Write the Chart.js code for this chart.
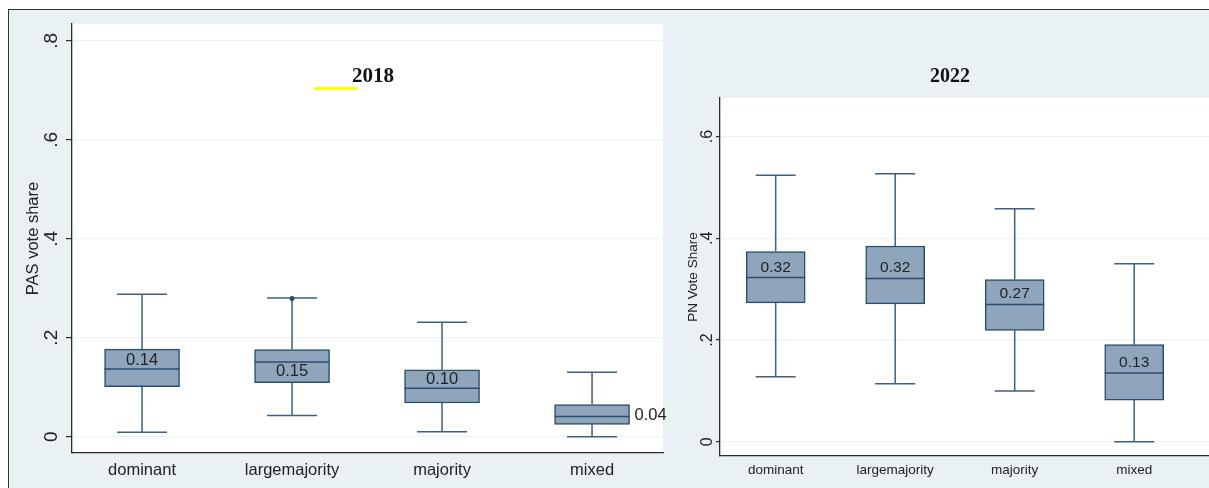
<!DOCTYPE html>
<html>
<head>
<meta charset="utf-8">
<script src="https://cdn.jsdelivr.net/npm/chart.js@4.4.1/dist/chart.umd.min.js"></script>
<style>
  html, body { margin: 0; padding: 0; background: #fff; }
  body { width: 1209px; height: 488px; position: relative; overflow: hidden; }
  #frame { position: absolute; left: 8px; top: 9px; right: -4px; bottom: -4px;
           background: #eaf1f4; border-top: 1.5px solid #333; border-left: 1.5px solid #333; }
  canvas { position: absolute; }
  #c18 { left: 9px; top: 10px; }
  #c22 { left: 670px; top: 10px; }
  .ttl { position: absolute; font-family: "Liberation Serif", "Times New Roman", serif;
         font-weight: bold; color: #111; transform: translate(-50%, -50%); white-space: nowrap; }
  #mark { position: absolute; left: 314px; top: 87px; width: 43px; height: 2.5px; background: #ffff00; }
</style>
</head>
<body>
<div id="frame"></div>
<canvas id="c18" width="661" height="478"></canvas>
<canvas id="c22" width="539" height="478"></canvas>
<div class="ttl" style="left:373px; top:75px; font-size:21px;">2018</div>
<div class="ttl" style="left:950px; top:75px; font-size:20px;">2022</div>
<div id="mark"></div>
<script>
// categorias comuns aos dois painéis
const categories = ['dominant', 'largemajority', 'majority', 'mixed'];

// 2018 - PAS vote share
const lo18  = [0.009, 0.043, 0.010, 0.000];
const q1_18 = [0.101, 0.109, 0.068, 0.025];
const med18 = [0.137, 0.151, 0.098, 0.041];
const q3_18 = [0.177, 0.176, 0.135, 0.065];
const hi18  = [0.288, 0.280, 0.231, 0.130];
const out18 = [[], [0.279], [], []];
const labels18 = ['0.14', '0.15', '0.10', '0.04'];
const labelY18 = [0.154, 0.131, 0.116, 0.042];
const labelAt18 = ['in', 'in', 'in', 'right'];
const yTicks18 = [0, 0.2, 0.4, 0.6, 0.8];

// 2022 - PN vote share
const lo22  = [0.128, 0.114, 0.100, 0.000];
const q1_22 = [0.273, 0.271, 0.219, 0.082];
const med22 = [0.323, 0.321, 0.270, 0.135];
const q3_22 = [0.374, 0.385, 0.319, 0.191];
const hi22  = [0.524, 0.527, 0.458, 0.350];
const out22 = [[], [], [], []];
const labels22 = ['0.32', '0.32', '0.27', '0.13'];
const labelY22 = [0.342, 0.342, 0.292, 0.155];
const labelAt22 = ['in', 'in', 'in', 'in'];
const yTicks22 = [0, 0.2, 0.4, 0.6];

const FONT = '"Liberation Sans", Arial, sans-serif';
const TXT = '#222';
const AXIS = '#2b2b2b';
const GRID = '#eef2f4';
const BOX_FILL = '#8fa5bc';
const BOX_LINE = '#2a4d6e';
const WHISKER = '#3d5f80';

// plugin que desenha fundo, bigodes, medianas e rótulos
function boxPlugin(p) {
    return {
        id: 'boxes',
        beforeDraw(chart) {
            const a = chart.chartArea, ctx = chart.ctx;
            ctx.save();
            ctx.fillStyle = '#fff';
            ctx.fillRect(a.left, a.top, a.right - a.left, a.bottom - a.top);
            ctx.restore();
        },
        beforeDatasetsDraw(chart) {
            const xs = chart.scales.x, ys = chart.scales.y, ctx = chart.ctx;
            ctx.save();
            ctx.strokeStyle = WHISKER;
            ctx.lineWidth = 1.5;
            categories.forEach((c, i) => {
                const x = xs.getPixelForValue(i + 1);
                ctx.beginPath();
                ctx.moveTo(x, ys.getPixelForValue(p.q3[i]));
                ctx.lineTo(x, ys.getPixelForValue(p.hi[i]));
                ctx.moveTo(x, ys.getPixelForValue(p.q1[i]));
                ctx.lineTo(x, ys.getPixelForValue(p.lo[i]));
                [p.hi[i], p.lo[i]].forEach(v => {
                    const y = ys.getPixelForValue(v);
                    ctx.moveTo(x - p.capW / 2, y);
                    ctx.lineTo(x + p.capW / 2, y);
                });
                ctx.stroke();
            });
            ctx.restore();
        },
        afterDatasetsDraw(chart) {
            const xs = chart.scales.x, ys = chart.scales.y, ctx = chart.ctx;
            ctx.save();
            categories.forEach((c, i) => {
                const x = xs.getPixelForValue(i + 1);
                const ym = ys.getPixelForValue(p.med[i]);
                ctx.strokeStyle = BOX_LINE;
                ctx.lineWidth = 1.5;
                ctx.beginPath();
                ctx.moveTo(x - p.boxW / 2, ym);
                ctx.lineTo(x + p.boxW / 2, ym);
                ctx.stroke();

                ctx.fillStyle = BOX_LINE;
                p.out[i].forEach(v => {
                    ctx.beginPath();
                    ctx.arc(x, ys.getPixelForValue(v), 2.5, 0, Math.PI * 2);
                    ctx.fill();
                });

                ctx.fillStyle = TXT;
                ctx.font = p.labelFont + 'px ' + FONT;
                ctx.textBaseline = 'middle';
                const yl = ys.getPixelForValue(p.labelY[i]);
                if (p.labelAt[i] === 'right') {
                    ctx.textAlign = 'left';
                    ctx.fillText(p.labels[i], x + p.boxW / 2 + 5, yl);
                } else {
                    ctx.textAlign = 'center';
                    ctx.fillText(p.labels[i], x, yl);
                }
            });
            ctx.restore();
        }
    };
}

function drawPanel(id, p) {
    const data = categories.map((c, i) => ({ x: i + 1, y: [p.q1[i], p.q3[i]] }));
    new Chart(document.getElementById(id), {
        type: 'bar',
        data: {
            datasets: [{
                data: data,
                backgroundColor: BOX_FILL,
                borderColor: BOX_LINE,
                borderWidth: 1.5,
                borderSkipped: false,
                barThickness: p.boxW
            }]
        },
        options: {
            responsive: false,
            animation: false,
            layout: { padding: p.pad },
            plugins: { legend: { display: false }, tooltip: { enabled: false } },
            scales: {
                x: {
                    type: 'linear',
                    min: p.xMin,
                    max: p.xMax,
                    offset: false,
                    afterBuildTicks: s => { s.ticks = categories.map((c, i) => ({ value: i + 1 })); },
                    afterFit: s => { s.height = p.xH; s.paddingLeft = 0; s.paddingRight = 0; },
                    grid: { display: false, drawTicks: false, offset: false },
                    border: { display: true, color: AXIS, width: 1.3 },
                    ticks: {
                        callback: v => categories[v - 1],
                        font: { family: FONT, size: p.xFont },
                        color: TXT,
                        padding: p.xPad,
                        maxRotation: 0,
                        autoSkip: false
                    }
                },
                y: {
                    min: p.yMin,
                    max: p.yMax,
                    afterBuildTicks: s => { s.ticks = p.yTicks.map(v => ({ value: v })); },
                    afterFit: s => { s.width = p.yW; s.paddingTop = 0; s.paddingBottom = 0; },
                    grid: { color: GRID, lineWidth: 1.2, tickColor: AXIS, tickLength: p.tickLen, drawTicks: true },
                    border: { display: true, color: AXIS, width: 1.3 },
                    ticks: {
                        minRotation: 90,
                        maxRotation: 90,
                        crossAlign: 'center',
                        autoSkip: false,
                        padding: p.yPad,
                        font: { family: FONT, size: p.yFont },
                        color: TXT,
                        callback: v => v === 0 ? '0' : '.' + Math.round(v * 10)
                    },
                    title: {
                        display: true,
                        text: p.yTitle,
                        font: { family: FONT, size: p.titleFont },
                        color: TXT,
                        padding: { top: p.titlePad, bottom: 0 }
                    }
                }
            }
        },
        plugins: [boxPlugin(p)]
    });
}

drawPanel('c18', {
    lo: lo18, q1: q1_18, med: med18, q3: q3_18, hi: hi18, out: out18,
    labels: labels18, labelY: labelY18, labelAt: labelAt18, yTicks: yTicks18,
    yTitle: 'PAS vote share',
    xMin: 0.533, xMax: 4.473, yMin: -0.033, yMax: 0.834,
    pad: { left: 0, right: 7, top: 14, bottom: 0 },
    yW: 63, xH: 35, boxW: 75, capW: 50, tickLen: 6,
    xFont: 16.5, yFont: 19, labelFont: 16.5, titleFont: 16.5,
    xPad: 8, yPad: 6, titlePad: 15
});

drawPanel('c22', {
    lo: lo22, q1: q1_22, med: med22, q3: q3_22, hi: hi22, out: out22,
    labels: labels22, labelY: labelY22, labelAt: labelAt22, yTicks: yTicks22,
    yTitle: 'PN Vote Share',
    xMin: 0.534, xMax: 4.626, yMin: -0.028, yMax: 0.676,
    pad: { left: 0, right: 0, top: 88, bottom: 0 },
    yW: 50, xH: 32, boxW: 59, capW: 40, tickLen: 4,
    xFont: 13.5, yFont: 16, labelFont: 15.5, titleFont: 13.5,
    xPad: 6, yPad: 2, titlePad: 15
});
</script>
</body>
</html>
